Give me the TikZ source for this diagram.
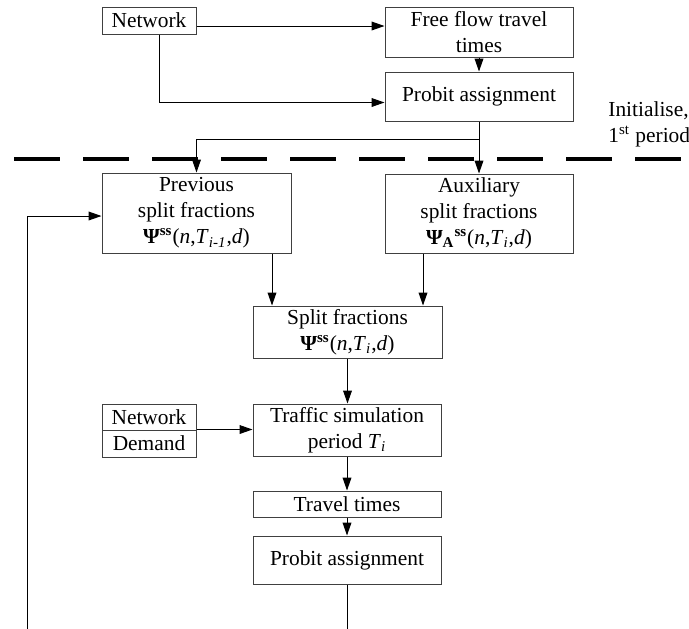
\documentclass[tikz,border=0pt]{standalone}
\usepackage{fontspec}
\setmainfont{Liberation Serif}
\usepackage{tikz}
\usetikzlibrary{arrows.meta}
\tikzset{
  box/.style={draw=black!75,line width=0.5pt,inner sep=0pt,align=center,
    font=\fontsize{10.7}{13}\selectfont},
  flow/.style={line width=0.5pt,-{Triangle[length=6.5pt,width=4.4pt]}},
  plain/.style={line width=0.5pt},
  divider/.style={line width=1.6pt,dash pattern=on 23pt off 11.5pt},
  note/.style={inner sep=0pt,font=\fontsize{10.7}{13}\selectfont}
}
\newcommand{\psiss}{\textbf{Ψ}\textsuperscript{\textbf{ss}}}

\begin{document}
\begin{tikzpicture}[x=0.5pt,y=-0.5pt]
    \useasboundingbox (0,0) rectangle (689,628);
    % initialisation
    \node[box,minimum width=47pt,minimum height=13.5pt] (net1) at (149,20.5) {Network};
    \node[box,minimum width=94pt,minimum height=25pt] (free) at (479,32) {Free flow travel\\times};
    \node[box,minimum width=94pt,minimum height=24.5pt] (prob1) at (479,96.5) {Probit assignment};
    \node[note,anchor=base west] (init1) at (608,116) {Initialise,};
    \node[note,anchor=base west] (init2) at (608,142) {1\textsuperscript{st} period};
    \coordinate (dl) at (14,159);
    \coordinate (dr) at (689,159);
    \draw[divider] (dl) -- (dr);
    %
    % periods
    \node[box,minimum width=94.5pt,minimum height=40pt] (prev) at (196.5,213)
      {Previous\\split fractions\\\psiss(\textit{n},\textit{T}\textsubscript{\textit{i-1}},\textit{d})};
    \node[box,minimum width=94pt,minimum height=39.5pt] (aux) at (479,213.5)
      {Auxiliary\\split fractions\\\textbf{Ψ}\textsubscript{\textbf{A}}\textsuperscript{\textbf{ss}}(\textit{n},\textit{T}\textsubscript{\textit{i}},\textit{d})};
    \node[box,minimum width=94.5pt,minimum height=26pt] (split) at (347.5,332)
      {Split fractions\\\psiss(\textit{n},\textit{T}\textsubscript{\textit{i}},\textit{d})};
    \node[box,minimum width=47pt,minimum height=13pt] (net2) at (149,417) {Network};
    \node[box,minimum width=47pt,minimum height=13.5pt] (dem) at (149,443.5) {Demand};
    \node[box,minimum width=94pt,minimum height=26pt] (traffic) at (347,430)
      {Traffic simulation\\period \textit{T}\textsubscript{\textit{i}}};
    \node[box,minimum width=94pt,minimum height=13pt] (travel) at (347,504) {Travel times};
    \node[box,minimum width=94pt,minimum height=24pt] (prob2) at (347,560) {Probit assignment};
    \coordinate (branch) at (479,139);
    \coordinate (out) at (347,630);
    \coordinate (back) at (27,630);
    %
    \draw[flow] ([yshift=-2.75pt]net1.east) -- ([yshift=-2.75pt]net1.east -| free.west);
    \draw[flow] ([xshift=5pt]net1.south) |- ([yshift=-3pt]prob1.west);
    \draw[flow] (free.south) -- (prob1.north);
    \draw[flow] (prob1.south) -- (aux.north);
    \draw[flow] (branch) -| (prev.north);
    \draw[flow] ([xshift=37.75pt]prev.south) -- ([xshift=37.75pt]prev.south |- split.north);
    \draw[flow] ([xshift=-28pt]aux.south) -- ([xshift=-28pt]aux.south |- split.north);
    \draw[flow] (split.south) -- (split.south |- traffic.north);
    \draw[flow] (dem.north east) -- (dem.north east -| traffic.west);
    \draw[flow] (traffic.south) -- (travel.north);
    \draw[flow] (travel.south) -- (prob2.north);
    \draw[plain] (prob2.south) -- (out);
    \draw[flow] (back) |- ([yshift=-1.5pt]prev.west);
  \end{tikzpicture}
\end{document}
